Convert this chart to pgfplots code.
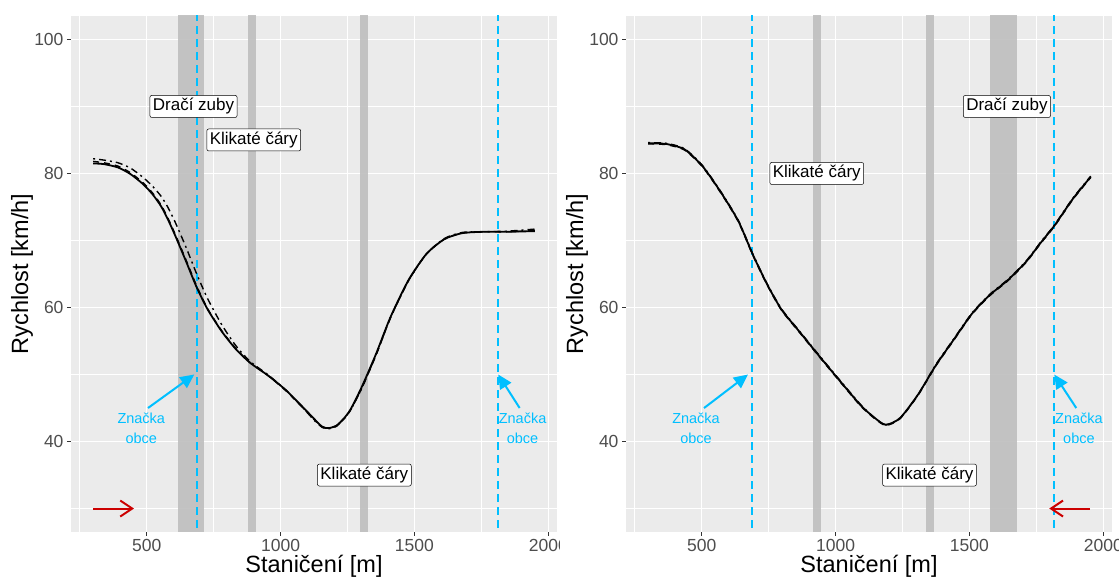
\documentclass[border=0pt]{standalone}
\usepackage{fontspec}
\setmainfont{Liberation Sans}
\usepackage{pgfplots}
\pgfplotsset{compat=1.18}
\usetikzlibrary{arrows.meta}
\definecolor{panelbg}{HTML}{EBEBEB}
\definecolor{band}{HTML}{BEBEBE}
\definecolor{skyb}{HTML}{00BFFF}
\definecolor{redarrow}{HTML}{CC0000}
\definecolor{tickgray}{HTML}{4D4D4D}
\definecolor{tickmark}{HTML}{333333}

\tikzset{
 lbl/.style={draw=black, fill=white, rounded corners=2pt, inner sep=3pt, line width=0.5pt, font=\fontsize{17}{17}\selectfont},
 blu/.style={text=skyb, align=center, font=\fontsize{14.5}{20}\selectfont},
}
\pgfplotsset{ggp/.style={
 scale only axis, width=486pt, height=516pt,
 xmin=217.5, xmax=2032.5, ymin=26.5, ymax=103.5,
 axis background/.style={fill=panelbg},
 axis line style={draw=none},
 xtick={500,1000,1500,2000}, ytick={40,60,80,100},
 minor xtick={250,750,1250,1750}, minor ytick={30,50,70,90},
 grid=both,
 major grid style={white, line width=1.1pt},
 minor grid style={white, line width=0.55pt},
 tick align=outside, xtick pos=bottom, ytick pos=left,
 major tick length=4pt, minor tick length=0pt,
 every tick/.style={tickmark, line width=0.6pt},
 tick label style={font=\fontsize{17.5}{17.5}\selectfont, text=tickgray},
 /pgf/number format/assume math mode=true,
 /pgf/number format/1000 sep={},
 xlabel={Staničení [m]}, ylabel={Rychlost [km/h]},
 label style={font=\fontsize{23.5}{23.5}\selectfont},
 x label style={at={(axis description cs:0.5,-0.066)}, anchor=center},
 y label style={at={(axis description cs:-0.1008,0.5)}, anchor=center},
 unbounded coords=jump,
 bandp/.style={draw=none, fill=band, fill opacity=0.9, forget plot},
 vlines/.style={skyb, line width=2.2pt, dash pattern=on 8pt off 5pt, forget plot},
 barrow/.style={skyb, line width=2pt, -{Triangle[length=14pt,width=13pt]}, forget plot},
 rarrow/.style={redarrow, line width=2pt, -{Straight Barb[length=12pt,width=16pt]}, forget plot},
 solidl/.style={black, line width=1.8pt, smooth, tension=0.4},
 dashl/.style={black, line width=1.4pt, dash pattern=on 6pt off 5pt, smooth, tension=0.4},
 ddl/.style={black, line width=1.4pt, dash pattern=on 2pt off 4pt on 7pt off 4pt, smooth, tension=0.4},
}}

\begin{document}
\begin{tikzpicture}[x=1pt,y=1pt]
\useasboundingbox (0,0) rectangle (1119,578);
% ---------------- left panel ----------------
\begin{axis}[ggp, at={(71pt,46pt)}, anchor=south west]
\addplot[bandp] coordinates {(618,0)(715,0)(715,200)(618,200)} -- cycle;
\addplot[bandp] coordinates {(878,0)(908,0)(908,200)(878,200)} -- cycle;
\addplot[bandp] coordinates {(1298,0)(1328,0)(1328,200)(1298,200)} -- cycle;
\addplot[vlines] coordinates {(688,0)(688,200)(nan,nan)(1811,0)(1811,200)};
\addplot[ddl] coordinates {(300,82.2)(340,82.0)(393,81.6)(440,80.8)(487,79.4)(522,78.1)(554,76.6)(580,74.9)(607,72.7)(647,69.0)(687,65.0)(728,61.3)(781,57.4)(835,54.2)(888,51.9)(955,49.9)(1022,47.6)(1089,44.8)(1125,43.2)(1156,42.1)(1180,41.9)(1210,42.3)(1240,43.6)(1263,44.8)(1304,48.0)(1357,53.0)(1411,58.5)(1478,64.0)(1545,68.0)(1612,70.3)(1679,71.2)(1759,71.3)(1850,71.4)(1950,71.7)};
\addplot[dashl] coordinates {(300,81.8)(340,81.6)(393,81.1)(440,80.1)(487,78.6)(522,77.1)(554,75.3)(580,73.3)(607,70.9)(647,67.1)(687,63.2)(728,59.8)(781,56.5)(835,53.8)(888,51.7)(955,49.8)(1022,47.5)(1089,44.8)(1125,43.3)(1156,42.2)(1180,42.0)(1210,42.4)(1240,43.5)(1263,44.8)(1304,48.0)(1357,52.9)(1411,58.5)(1478,64.0)(1545,68.0)(1612,70.2)(1679,71.1)(1759,71.3)(1850,71.3)(1950,71.5)};
\addplot[solidl] coordinates {(300,81.5)(340,81.4)(393,80.9)(440,79.9)(487,78.4)(522,76.9)(554,75.1)(580,73.1)(607,70.7)(647,66.9)(687,63.0)(728,59.7)(781,56.4)(835,53.7)(888,51.7)(955,49.8)(1022,47.6)(1089,44.9)(1125,43.4)(1156,42.2)(1180,42.0)(1210,42.4)(1240,43.6)(1263,44.9)(1304,48.2)(1357,53.1)(1411,58.6)(1478,64.1)(1545,68.0)(1612,70.2)(1679,71.1)(1759,71.3)(1850,71.3)(1950,71.4)};
\addplot[barrow] coordinates {(505,45)(678,50)};
\addplot[barrow] coordinates {(1893,45)(1813,50)};
\addplot[rarrow] coordinates {(300,30)(453,30)};
\node[lbl] at (axis cs:675,90) {Dračí zuby};
\node[lbl] at (axis cs:900,85) {Klikaté čáry};
\node[lbl] at (axis cs:1313,35) {Klikaté čáry};
\node[blu] at (axis cs:480,42) {Značka\\obce};
\node[blu] at (axis cs:1904,42) {Značka\\obce};
\end{axis}
\fill[white] (560,14) rectangle (568,42);
% ---------------- right panel ----------------
\begin{axis}[ggp, at={(626pt,46pt)}, anchor=south west]
\addplot[bandp] coordinates {(915,0)(947,0)(947,200)(915,200)} -- cycle;
\addplot[bandp] coordinates {(1339,0)(1369,0)(1369,200)(1339,200)} -- cycle;
\addplot[bandp] coordinates {(1578,0)(1679,0)(1679,200)(1578,200)} -- cycle;
\addplot[vlines] coordinates {(688,0)(688,200)(nan,nan)(1815,0)(1815,200)};
\addplot[ddl] coordinates {(300,84.6)(368,84.5)(436,83.7)(503,81.2)(570,77.4)(637,73.0)(691,68.0)(744,63.6)(798,59.8)(865,56.5)(932,53.2)(1013,49.3)(1094,45.5)(1147,43.5)(1188,42.5)(1241,43.5)(1308,47.0)(1375,51.5)(1443,55.4)(1510,59.2)(1577,62.0)(1644,64.2)(1711,66.9)(1765,69.7)(1819,72.4)(1886,76.3)(1953,79.6)};
\addplot[dashl] coordinates {(300,84.4)(368,84.3)(436,83.5)(503,81.0)(570,77.2)(637,72.8)(691,67.8)(744,63.4)(798,59.6)(865,56.3)(932,53.0)(1013,49.1)(1094,45.3)(1147,43.4)(1188,42.4)(1241,43.4)(1308,46.9)(1375,51.3)(1443,55.2)(1510,59.0)(1577,61.8)(1644,64.0)(1711,66.7)(1765,69.5)(1819,72.2)(1886,76.1)(1953,79.4)};
\addplot[solidl] coordinates {(300,84.5)(368,84.4)(436,83.6)(503,81.1)(570,77.3)(637,72.9)(691,67.9)(744,63.5)(798,59.7)(865,56.4)(932,53.1)(1013,49.2)(1094,45.4)(1147,43.5)(1188,42.5)(1241,43.5)(1308,47.0)(1375,51.4)(1443,55.3)(1510,59.1)(1577,61.9)(1644,64.1)(1711,66.8)(1765,69.6)(1819,72.3)(1886,76.2)(1953,79.5)};
\addplot[barrow] coordinates {(509,45)(673,50)};
\addplot[barrow] coordinates {(1899,45)(1817,50)};
\addplot[rarrow] coordinates {(1950,30)(1798,30)};
\node[lbl] at (axis cs:1640,90) {Dračí zuby};
\node[lbl] at (axis cs:930,80) {Klikaté čáry};
\node[lbl] at (axis cs:1351,35) {Klikaté čáry};
\node[blu] at (axis cs:479,42) {Značka\\obce};
\node[blu] at (axis cs:1909,42) {Značka\\obce};
\end{axis}
\end{tikzpicture}
\end{document}
